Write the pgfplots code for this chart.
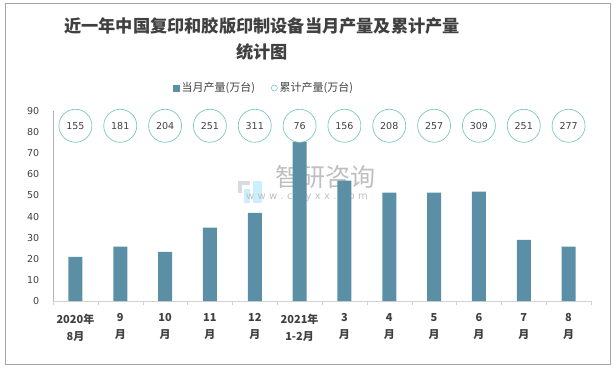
\documentclass[border=0pt]{standalone}
\usepackage{pgfplots}
\usepackage{pgfplotstable}
\pgfplotsset{compat=1.18}
\usepackage{fontspec}
\setmainfont{Noto Sans CJK SC}
\newfontfamily\dejavu{DejaVu Sans}
\definecolor{barc}{HTML}{5B8FA6}
\definecolor{circc}{HTML}{7CC9C1}
\definecolor{txt}{HTML}{404040}
\definecolor{framec}{HTML}{A6A6A6}
\definecolor{wm}{HTML}{BFBFBF}

\pgfplotstableread{
x y cy cum
0 20.9 83 155
1 25.7 83 181
2 23.3 83 204
3 34.7 83 251
4 41.8 83 311
5 75.5 83 76
6 57.0 83 156
7 51.3 83 208
8 51.3 83 257
9 51.8 83 309
10 29.0 83 251
11 25.7 83 277
}\data

\begin{document}
\begin{tikzpicture}
\useasboundingbox (0pt,0pt) rectangle (615pt,369pt);
\draw[framec, line width=1pt] (5.5pt,4.5pt) rectangle (610pt,365.5pt);
\node[font=\bfseries\fontsize{17.2}{20}\selectfont, text=txt] at (262pt,343pt) {近一年中国复印和胶版印制设备当月产量及累计产量};
\node[font=\bfseries\fontsize{17.2}{20}\selectfont, text=txt] at (262pt,317pt) {统计图};
% watermark
\fill[blue!15!gray!25] (238pt,184pt) rectangle (250pt,188pt);
\fill[blue!15!gray!25] (238pt,176pt) rectangle (242pt,184pt);
\fill[cyan!20] (244pt,166pt) rectangle (250pt,180pt);
\fill[cyan!20] (253pt,166pt) rectangle (262pt,188pt);
\node[font=\fontsize{25}{25}\selectfont, text=wm] at (325pt,192pt) {智研咨询};
\node[font=\dejavu\fontsize{10}{10}\selectfont, text=wm] at (307pt,172pt) {w\,\,w\,\,w\,\,.\,\,c\,\,h\,\,y\,\,x\,\,x\,\,.\,\,c\,\,o\,\,m};
\begin{axis}[
  at={(53pt,68pt)}, anchor=south west,
  scale only axis, width=538pt, height=190pt,
  xmin=-0.5, xmax=11.5, ymin=0, ymax=90,
  clip=false,
  axis x line*=bottom, axis y line*=left,
  x axis line style={-, draw=gray!35},
  y axis line style={-, draw=gray!60},
  xtick={0,...,11},
  xticklabels={{2020年\\8月},{9\\月},{10\\月},{11\\月},{12\\月},{2021年\\1-2月},{3\\月},{4\\月},{5\\月},{6\\月},{7\\月},{8\\月}},
  minor xtick={-0.5,0.5,...,11.5},
  major x tick style={draw=none},
  minor x tick style={draw=gray!35},
  minor tick length=4pt,
  tick align=outside,
  ytick={0,10,...,90},
  y tick style={draw=none},
  xticklabel style={font=\bfseries\fontsize{11}{17}\selectfont, align=center, text=txt, yshift=-5pt},
  yticklabel style={font=\dejavu\fontsize{9.5}{10}\selectfont, text=txt, xshift=-6pt},
  /pgf/number format/assume math mode=true,
  legend style={at={(0.392,1.121)}, anchor=center, draw=none, fill=none,
    font=\fontsize{11}{12}\selectfont, text=txt,
    /tikz/every even column/.append style={column sep=14pt}},
  legend columns=2,
  legend cell align=left,
]
\addplot[ybar, bar width=14pt, bar shift=0pt, fill=barc, draw=none,
  legend image code/.code={\fill[barc] (0pt,-3.5pt) rectangle (7pt,3.5pt);}]
  table[x=x, y=y]{\data};
\addlegendentry{当月产量(万台)}
\addplot[only marks, mark=*, mark size=16.5pt,
  mark options={fill=white, draw=circc, line width=0.7pt},
  nodes near coords, point meta=explicit symbolic,
  nodes near coords style={anchor=center, font=\dejavu\fontsize{9.5}{10}\selectfont, text=txt},
  legend image code/.code={\draw[circc, line width=0.6pt] (3.5pt,0) circle (3pt);}]
  table[x=x, y=cy, meta=cum]{\data};
\addlegendentry{累计产量(万台)}
\end{axis}
\end{tikzpicture}
\end{document}
